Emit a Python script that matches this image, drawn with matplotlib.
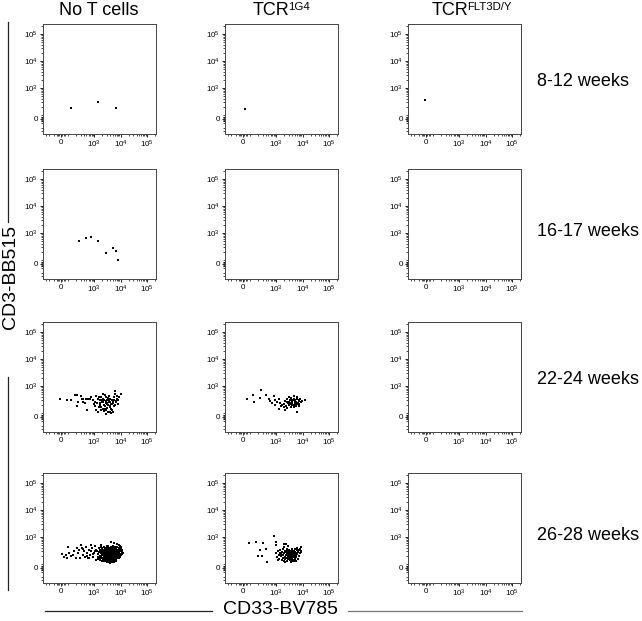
import matplotlib.pyplot as plt
from matplotlib.lines import Line2D
import numpy as np

plt.rcParams['font.family'] = ['Liberation Sans', 'DejaVu Sans']
plt.rcParams['mathtext.fontset'] = 'custom'
plt.rcParams['mathtext.rm'] = 'Liberation Sans'
plt.rcParams['mathtext.it'] = 'Liberation Sans:italic'
plt.rcParams['mathtext.bf'] = 'Liberation Sans:bold'

columns = ["No T cells", "TCR", "TCR"]
column_sup = ["", "1G4", "FLT3D/Y"]
rows = ["8-12 weeks", "16-17 weeks", "22-24 weeks", "26-28 weeks"]
tick_values = [0, 1e3, 1e4, 1e5]
tick_labels = ["0", "$10^3$", "$10^4$", "$10^5$"]
x_label = "CD33-BV785"
y_label = "CD3-BB515"

# events as (CD33, CD3) pairs
wk8_no_t = [(125, 186), (1380, 294), (6400, 186)]
wk8_1g4 = [(28, 166)]
wk8_flt3 = [(-18, 357)]

wk16_no_t = [(265, 516), (470, 630), (730, 725), (1380, 516), (2850, 186),
             (5050, 270), (6400, 220), (7800, 99)]
wk16_1g4 = []
wk16_flt3 = []

wk22_no_t = [(-14, 315), (79, 295), (135, 295), (182, 475), (210, 445), (300, 435),
             (240, 255), (210, 175), (355, 315), (435, 235), (530, 132), (580, 315),
             (665, 320), (890, 295), (950, 210), (1190, 410), (1380, 340), (1600, 295),
             (1700, 235), (1500, 166), (1840, 390), (2000, 255), (2130, 340), (2250, 192),
             (2460, 145), (2700, 280), (2850, 390), (2950, 210), (3270, 108), (3500, 255),
             (3780, 160), (4000, 340), (4370, 222), (4700, 125), (5050, 280), (5400, 175),
             (5840, 650), (6300, 520), (6740, 255), (7200, 340), (7780, 210), (10400, 520),
             (1190, 125), (1380, 108), (1840, 125), (1750, 160), (1030, 255), (2850, 84),
             (4370, 95), (5050, 108), (2130, 520), (2460, 445), (770, 390), (325, 340),
             (375, 255), (500, 340), (1300, 230), (1450, 380), (1650, 200), (1900, 300),
             (2050, 140), (2200, 260), (2350, 310), (2550, 180), (2650, 230), (3000, 300),
             (3100, 150), (3350, 200), (3600, 290), (3900, 180), (4100, 260), (4500, 300),
             (4800, 210), (5300, 240), (5700, 310), (6000, 190), (6500, 280), (7000, 420),
             (8000, 300), (8600, 380), (3200, 370), (3700, 420), (2300, 120), (2750, 130),
             (4200, 140), (1100, 180), (5500, 400), (4000, 110), (2900, 240), (3400, 330)]
wk22_1g4 = [(60, 320), (130, 475), (250, 730), (230, 360), (140, 255), (390, 475),
            (510, 340), (590, 270), (790, 420), (680, 235), (910, 295), (1230, 320),
            (1410, 235), (1230, 145), (1900, 222), (2190, 280), (2520, 340), (2930, 390),
            (3380, 295), (3900, 255), (4500, 340), (5200, 295), (6000, 222), (6950, 280),
            (8000, 340), (9200, 280), (12300, 310), (2300, 175), (2930, 192), (3380, 210),
            (3900, 192), (4500, 166), (5200, 222), (6000, 108), (6950, 175), (2050, 125),
            (2520, 155), (1630, 192), (3700, 310), (4900, 255), (6500, 235), (5500, 185),
            (4100, 222), (3100, 255), (2750, 235), (7300, 210), (8600, 255), (3500, 370),
            (4600, 410), (6200, 390), (1900, 166), (1500, 175), (1070, 255), (860, 192),
            (3200, 240), (4200, 290), (5600, 260), (7500, 300), (2600, 260), (4800, 200),
            (5900, 320), (3600, 170)]
wk22_flt3 = []

wk26_no_t = [(10, 235), (47, 180), (85, 160), (94, 410), (110, 255), (128, 190), (150, 220),
             (170, 295), (200, 166), (230, 255), (265, 340), (305, 490), (325, 390), (355, 220),
             (410, 295), (435, 175), (475, 410), (545, 255), (580, 160), (630, 340), (690, 210),
             (725, 490), (770, 295), (840, 390), (920, 175), (975, 255), (1030, 450), (1120, 145),
             (1200, 340), (70, 220), (215, 390), (290, 166), (385, 370), (515, 190), (650, 160),
             (870, 235), (1080, 295),
             (1300, 310), (1350, 240), (1420, 180), (1480, 380), (1400, 150), (1500, 270),
             (1600, 205), (1650, 330), (1700, 160), (1750, 260), (1780, 420), (1620, 140),
             (1720, 300), (1800, 190), (1900, 230), (1950, 350), (2000, 170), (2050, 280),
             (2100, 140), (1980, 400), (2080, 210), (1920, 130), (2020, 310), (2200, 250),
             (2250, 180), (2300, 330), (2350, 150), (2400, 270), (2450, 210), (2500, 360),
             (2280, 125), (2380, 230), (2480, 160), (2220, 300), (2420, 440), (2330, 195),
             (2600, 240), (2650, 170), (2700, 310), (2750, 140), (2800, 260), (2850, 200),
             (2900, 350), (2950, 160), (3000, 280), (2680, 220), (2780, 180), (2880, 130),
             (2620, 290), (2720, 390), (2980, 230), (2830, 320), (2920, 115), (3100, 250),
             (3150, 180), (3200, 320), (3250, 150), (3300, 270), (3350, 210), (3400, 360),
             (3450, 130), (3500, 240), (3550, 190), (3600, 300), (3120, 140), (3220, 230),
             (3320, 170), (3420, 280), (3520, 155), (3180, 400), (3380, 120), (3480, 330),
             (3580, 215), (3280, 470), (3150, 290), (3700, 260), (3750, 170), (3800, 330),
             (3850, 140), (3900, 230), (3950, 190), (4000, 290), (4050, 120), (4100, 250),
             (4150, 160), (4200, 350), (4250, 210), (4300, 270), (3720, 200), (3820, 110),
             (3920, 300), (4020, 180), (4120, 400), (4220, 140), (3780, 240), (3880, 380),
             (4080, 220), (4280, 170), (4400, 240), (4450, 150), (4500, 310), (4550, 190),
             (4600, 260), (4650, 130), (4700, 220), (4750, 350), (4800, 170), (4850, 280),
             (4900, 200), (4950, 140), (5000, 250), (5050, 320), (5100, 180), (5150, 230),
             (5200, 290), (4420, 420), (4620, 380), (4820, 115), (5020, 160), (4520, 210),
             (4720, 270), (4920, 330), (5120, 480), (5300, 240), (5400, 170), (5500, 300),
             (5600, 210), (5700, 260), (5800, 150), (5900, 330), (6000, 190), (6100, 250),
             (6200, 140), (6300, 280), (6400, 220), (6500, 360), (5350, 120), (5550, 400),
             (5750, 190), (5950, 230), (6150, 310), (6350, 170), (5450, 260), (5650, 330),
             (6050, 440), (6450, 130), (5850, 280), (6600, 240), (6800, 180), (7000, 290),
             (7200, 210), (7400, 260), (7600, 160), (7800, 320), (8000, 230), (6700, 380),
             (6900, 140), (7100, 340), (7300, 190), (7500, 420), (7700, 250), (7900, 180),
             (6650, 300), (7050, 230), (7450, 310), (8300, 280), (8600, 200), (9000, 330),
             (9300, 240), (9700, 290), (10200, 220), (10800, 270), (11500, 240), (12500, 260),
             (8800, 400), (9500, 180), (10000, 360), (8400, 160), (9200, 450), (11000, 330),
             (4150, 640), (5550, 600), (7000, 560), (8600, 490), (9900, 410), (2900, 450),
             (1740, 490)]
wk26_1g4 = [(90, 600), (162, 640), (315, 600), (230, 325), (420, 360), (205, 205), (290, 205),
            (445, 115), (790, 1050), (960, 640), (1900, 550), (2300, 550), (2750, 450),
            (2000, 410), (960, 520),
            (1000, 250), (1100, 180), (1150, 300), (1250, 210), (1300, 150), (1400, 260),
            (1450, 190), (1550, 230), (1600, 140), (1700, 280), (1750, 170), (1850, 220),
            (1900, 130), (2000, 250), (2050, 180), (2150, 300), (2200, 150), (2300, 220),
            (2400, 170), (2500, 260), (2550, 130), (2650, 200), (2750, 240), (2800, 150),
            (2900, 280), (3000, 190), (3100, 230), (3200, 140), (3300, 260), (3400, 180),
            (3500, 210), (3600, 290), (3700, 150), (3800, 240), (3900, 200), (4000, 170),
            (4200, 260), (4300, 220), (4400, 140), (4500, 300), (4700, 190), (4800, 240),
            (5000, 160), (5200, 280), (5400, 210), (5600, 250), (5800, 180), (6000, 320),
            (6300, 230), (6600, 280), (7000, 200), (7400, 340), (7800, 260), (8300, 300),
            (9000, 280), (2100, 120), (2600, 310), (3150, 330), (3450, 120), (4100, 350),
            (4600, 125), (5100, 360), (1350, 330), (1800, 350), (2350, 270), (2850, 200),
            (3350, 150), (3750, 270), (4250, 180), (4900, 210), (5500, 130), (6200, 380),
            (2450, 360), (1650, 210), (1200, 140), (3050, 260), (3550, 170), (3950, 300),
            (4450, 230), (5300, 150), (5900, 230), (6800, 150), (7600, 360), (8600, 420),
            (2700, 170), (3250, 210), (3850, 130), (4350, 270)]
wk26_flt3 = []

panels = [[wk8_no_t, wk8_1g4, wk8_flt3],
          [wk16_no_t, wk16_1g4, wk16_flt3],
          [wk22_no_t, wk22_1g4, wk22_flt3],
          [wk26_no_t, wk26_1g4, wk26_flt3]]

W, H = 642, 621
fig = plt.figure(figsize=(W / 100, H / 100), dpi=100)

col_left = [43, 225, 408]
row_top = [24, 169, 322, 473]
pw, ph = 113, 110

minor_ticks = [-200, -150, -100, -60, -40, -20, 20, 40, 60, 100]
for k in [2, 3, 4]:
    minor_ticks += [m * 10 ** k for m in range(2, 10)]
minor_ticks += [2e5]

for r in range(4):
    for c in range(3):
        ax = fig.add_axes([col_left[c] / W, 1 - (row_top[r] + ph) / H, pw / W, ph / H])
        ax.set_xscale('symlog', linthresh=100, linscale=0.243)
        ax.set_yscale('symlog', linthresh=100, linscale=0.135)
        pts = panels[r][c]
        if pts:
            xs = [p[0] for p in pts]
            ys = [p[1] for p in pts]
            ax.scatter(xs, ys, s=3, marker='s', c='black', linewidths=0)
        ax.set_xlim(-257, 2.19e5)
        ax.set_ylim(-255, 2.34e5)
        ax.set_xticks(tick_values)
        ax.set_xticklabels(tick_labels)
        ax.set_yticks(tick_values)
        ax.set_yticklabels(tick_labels)
        ax.set_xticks(minor_ticks, minor=True)
        ax.set_yticks(minor_ticks, minor=True)
        ax.tick_params(which='major', length=2.2, width=0.6, labelsize=5.8, pad=1.5, direction='out')
        ax.tick_params(which='minor', length=1.1, width=0.5, direction='out')
        for s in ax.spines.values():
            s.set_linewidth(0.7)
            s.set_color('#444444')

# column titles; superscripts placed just right of "TCR"
title_left = [99, 253, 432]
fig.text(title_left[0] / W, 1 - 15 / H, columns[0], ha='center', va='baseline', fontsize=13)
for c in [1, 2]:
    fig.text(title_left[c] / W, 1 - 15 / H, columns[c], ha='left', va='baseline', fontsize=13)
    fig.text((title_left[c] + 35) / W, 1 - 10.5 / H, column_sup[c], ha='left',
             va='baseline', fontsize=8.2)

# row labels
label_y = [82, 232, 380, 536]
for r in range(4):
    fig.text(537 / W, 1 - label_y[r] / H, rows[r], ha='left', va='center', fontsize=13)

# axis titles with lines
fig.text(11 / W, 1 - 277 / H, y_label, rotation=90, ha='center', va='center', fontsize=14)
fig.text(280 / W, 1 - 610 / H, x_label, ha='center', va='center', fontsize=14)
fig.add_artist(Line2D([8 / W, 8 / W], [1 - 22 / H, 1 - 222 / H], color='#222222', lw=0.9))
fig.add_artist(Line2D([8 / W, 8 / W], [1 - 377 / H, 1 - 590 / H], color='#222222', lw=0.9))
fig.add_artist(Line2D([45 / W, 212 / W], [1 - 611 / H, 1 - 611 / H], color='#222222', lw=0.9))
fig.add_artist(Line2D([348 / W, 522 / W], [1 - 611 / H, 1 - 611 / H], color='#777777', lw=0.9))

plt.savefig("out.png", dpi=100)
